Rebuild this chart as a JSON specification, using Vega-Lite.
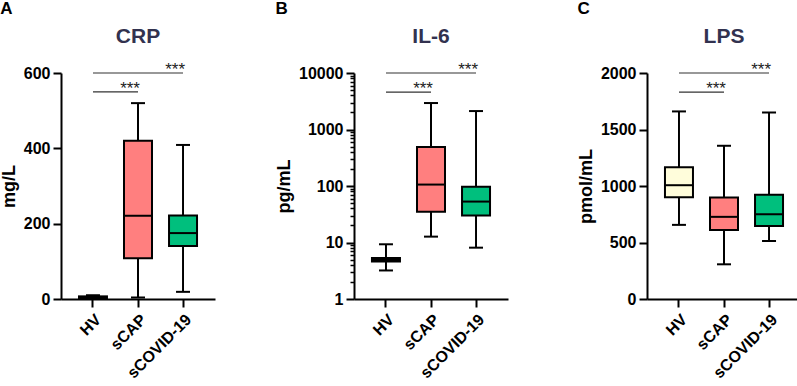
{
  "$schema": "https://vega.github.io/schema/vega-lite/v6.json",
  "padding": {"left": 0, "top": 0, "right": 0, "bottom": 0},
  "datasets": {
    "crp": [
      {"group": "HV", "min": 1, "q1": 2, "median": 4, "q3": 7, "max": 10},
      {"group": "sCAP", "min": 4, "q1": 108, "median": 221, "q3": 420, "max": 520},
      {"group": "sCOVID-19", "min": 19, "q1": 141, "median": 175, "q3": 222, "max": 409}
    ],
    "il6": [
      {"group": "HV", "min": 3.2, "q1": 4.6, "median": 4.9, "q3": 5.3, "max": 9.3},
      {"group": "sCAP", "min": 12.7, "q1": 35, "median": 106, "q3": 490, "max": 2940},
      {"group": "sCOVID-19", "min": 8.1, "q1": 30, "median": 53, "q3": 97, "max": 2120}
    ],
    "lps": [
      {"group": "HV", "min": 656, "q1": 901, "median": 1007, "q3": 1167, "max": 1660},
      {"group": "sCAP", "min": 307, "q1": 611, "median": 727, "q3": 898, "max": 1356},
      {"group": "sCOVID-19", "min": 514, "q1": 647, "median": 750, "q3": 922, "max": 1651}
    ],
    "sig_crp": [
      {"from": "HV", "to": "sCAP", "y": 550, "label": "***"},
      {"from": "HV", "to": "sCOVID-19", "y": 600, "label": "***"}
    ],
    "sig_il6": [
      {"from": "HV", "to": "sCAP", "y": 4600, "label": "***"},
      {"from": "HV", "to": "sCOVID-19", "y": 10000, "label": "***"}
    ],
    "sig_lps": [
      {"from": "HV", "to": "sCAP", "y": 1830, "label": "***"},
      {"from": "HV", "to": "sCOVID-19", "y": 2000, "label": "***"}
    ]
  },
  "hconcat": [
    {
      "spacing": 60,
      "hconcat": [
        {
          "title": {"text": "A", "anchor": "start", "frame": "bounds", "fontSize": 17, "fontWeight": "bold", "color": "black", "offset": 8},
          "vconcat": [
            {
              "width": 154, "height": 226,
              "title": {"text": "CRP", "fontSize": 21, "fontWeight": "bold", "color": "#32324f", "offset": 14},
              "layer": [
                {"data": {"name": "crp"}, "mark": {"type": "rule", "strokeWidth": 2, "color": "black"},
                 "encoding": {
                   "x": {"field": "group", "type": "nominal", "sort": ["HV", "sCAP", "sCOVID-19"], "scale": {"domain": ["HV", "sCAP", "sCOVID-19"], "paddingInner": 0, "paddingOuter": 0.21}, "axis": {"title": null, "labelAngle": -45, "tickSize": 8, "labelPadding": 4}},
                   "y": {"field": "min", "type": "quantitative", "scale": {"domain": [0, 600], "nice": false}, "axis": {"title": "mg/L", "values": [0, 200, 400, 600], "tickSize": 8, "titlePadding": 5}},
                   "y2": {"field": "max"}}},
                {"data": {"name": "crp"}, "mark": {"type": "tick", "size": 14, "thickness": 2, "color": "black", "opacity": 1},
                 "encoding": {"x": {"field": "group", "type": "nominal"}, "y": {"field": "min", "type": "quantitative"}}},
                {"data": {"name": "crp"}, "mark": {"type": "tick", "size": 14, "thickness": 2, "color": "black", "opacity": 1},
                 "encoding": {"x": {"field": "group", "type": "nominal"}, "y": {"field": "max", "type": "quantitative"}}},
                {"data": {"name": "crp"}, "mark": {"type": "bar", "size": 28, "stroke": "black", "strokeWidth": 2, "opacity": 1},
                 "encoding": {"x": {"field": "group", "type": "nominal"}, "y": {"field": "q1", "type": "quantitative"}, "y2": {"field": "q3"},
                   "fill": {"field": "group", "type": "nominal", "scale": {"domain": ["HV", "sCAP", "sCOVID-19"], "range": ["#fffddb", "#ff7f7f", "#00bf7d"]}, "legend": null}}},
                {"data": {"name": "crp"}, "mark": {"type": "tick", "size": 28, "thickness": 2, "color": "black", "opacity": 1},
                 "encoding": {"x": {"field": "group", "type": "nominal"}, "y": {"field": "median", "type": "quantitative"}}},
                {"data": {"name": "sig_crp"}, "mark": {"type": "rule", "strokeWidth": 1.2, "color": "#333333"},
                 "encoding": {"x": {"field": "from", "type": "nominal"}, "x2": {"field": "to"}, "y": {"field": "y", "type": "quantitative"}}},
                {"data": {"name": "sig_crp"}, "mark": {"type": "text", "align": "right", "baseline": "alphabetic", "fontSize": 17, "dx": 2, "dy": 2, "color": "#222222"},
                 "encoding": {"x": {"field": "to", "type": "nominal"}, "y": {"field": "y", "type": "quantitative"}, "text": {"field": "label"}}}
              ]
            }
          ]
        },
        {
          "title": {"text": "B", "anchor": "start", "frame": "bounds", "fontSize": 17, "fontWeight": "bold", "color": "black", "offset": 8},
          "vconcat": [
            {
              "width": 154, "height": 226,
              "title": {"text": "IL-6", "fontSize": 21, "fontWeight": "bold", "color": "#32324f", "offset": 14},
              "layer": [
                {"data": {"name": "il6"}, "mark": {"type": "rule", "strokeWidth": 2, "color": "black"},
                 "encoding": {
                   "x": {"field": "group", "type": "nominal", "sort": ["HV", "sCAP", "sCOVID-19"], "scale": {"domain": ["HV", "sCAP", "sCOVID-19"], "paddingInner": 0, "paddingOuter": 0.21}, "axis": {"title": null, "labelAngle": -45, "tickSize": 8, "labelPadding": 4}},
                   "y": {"field": "min", "type": "quantitative", "scale": {"type": "log", "domain": [1, 10000], "nice": false},
                     "axis": {"title": "pg/mL", "titlePadding": 5, "tickCount": 60, "format": "d", "labelPadding": 3,
                       "values": [1,2,3,4,5,6,7,8,9,10,20,30,40,50,60,70,80,90,100,200,300,400,500,600,700,800,900,1000,2000,3000,4000,5000,6000,7000,8000,9000,10000],
                       "labelExpr": "indexof([1,10,100,1000,10000], datum.value) >= 0 ? datum.label : ''",
                       "tickSize": {"condition": {"test": "indexof([1,10,100,1000,10000], datum.value) >= 0", "value": 8}, "value": 4},
                       "tickWidth": {"condition": {"test": "indexof([1,10,100,1000,10000], datum.value) >= 0", "value": 2}, "value": 1.5}}},
                   "y2": {"field": "max"}}},
                {"data": {"name": "il6"}, "mark": {"type": "tick", "size": 14, "thickness": 2, "color": "black", "opacity": 1},
                 "encoding": {"x": {"field": "group", "type": "nominal"}, "y": {"field": "min", "type": "quantitative"}}},
                {"data": {"name": "il6"}, "mark": {"type": "tick", "size": 14, "thickness": 2, "color": "black", "opacity": 1},
                 "encoding": {"x": {"field": "group", "type": "nominal"}, "y": {"field": "max", "type": "quantitative"}}},
                {"data": {"name": "il6"}, "mark": {"type": "bar", "size": 28, "stroke": "black", "strokeWidth": 2, "opacity": 1},
                 "encoding": {"x": {"field": "group", "type": "nominal"}, "y": {"field": "q1", "type": "quantitative"}, "y2": {"field": "q3"},
                   "fill": {"field": "group", "type": "nominal", "scale": {"domain": ["HV", "sCAP", "sCOVID-19"], "range": ["#fffddb", "#ff7f7f", "#00bf7d"]}, "legend": null}}},
                {"data": {"name": "il6"}, "mark": {"type": "tick", "size": 28, "thickness": 2, "color": "black", "opacity": 1},
                 "encoding": {"x": {"field": "group", "type": "nominal"}, "y": {"field": "median", "type": "quantitative"}}},
                {"data": {"name": "sig_il6"}, "mark": {"type": "rule", "strokeWidth": 1.2, "color": "#333333"},
                 "encoding": {"x": {"field": "from", "type": "nominal"}, "x2": {"field": "to"}, "y": {"field": "y", "type": "quantitative"}}},
                {"data": {"name": "sig_il6"}, "mark": {"type": "text", "align": "right", "baseline": "alphabetic", "fontSize": 17, "dx": 2, "dy": 2, "color": "#222222"},
                 "encoding": {"x": {"field": "to", "type": "nominal"}, "y": {"field": "y", "type": "quantitative"}, "text": {"field": "label"}}}
              ]
            }
          ]
        }
      ]
    },
    {
      "title": {"text": "C", "anchor": "start", "frame": "bounds", "fontSize": 17, "fontWeight": "bold", "color": "black", "offset": 8},
      "vconcat": [
        {
          "width": 154, "height": 226,
          "title": {"text": "LPS", "fontSize": 21, "fontWeight": "bold", "color": "#32324f", "offset": 14},
          "layer": [
            {"data": {"name": "lps"}, "mark": {"type": "rule", "strokeWidth": 2, "color": "black"},
             "encoding": {
               "x": {"field": "group", "type": "nominal", "sort": ["HV", "sCAP", "sCOVID-19"], "scale": {"domain": ["HV", "sCAP", "sCOVID-19"], "paddingInner": 0, "paddingOuter": 0.21}, "axis": {"title": null, "labelAngle": -45, "tickSize": 8, "labelPadding": 4}},
               "y": {"field": "min", "type": "quantitative", "scale": {"domain": [0, 2000], "nice": false}, "axis": {"title": "pmol/mL", "format": "d", "values": [0, 500, 1000, 1500, 2000], "tickSize": 8, "titlePadding": 5}},
               "y2": {"field": "max"}}},
            {"data": {"name": "lps"}, "mark": {"type": "tick", "size": 14, "thickness": 2, "color": "black", "opacity": 1},
             "encoding": {"x": {"field": "group", "type": "nominal"}, "y": {"field": "min", "type": "quantitative"}}},
            {"data": {"name": "lps"}, "mark": {"type": "tick", "size": 14, "thickness": 2, "color": "black", "opacity": 1},
             "encoding": {"x": {"field": "group", "type": "nominal"}, "y": {"field": "max", "type": "quantitative"}}},
            {"data": {"name": "lps"}, "mark": {"type": "bar", "size": 28, "stroke": "black", "strokeWidth": 2, "opacity": 1},
             "encoding": {"x": {"field": "group", "type": "nominal"}, "y": {"field": "q1", "type": "quantitative"}, "y2": {"field": "q3"},
               "fill": {"field": "group", "type": "nominal", "scale": {"domain": ["HV", "sCAP", "sCOVID-19"], "range": ["#fffddb", "#ff7f7f", "#00bf7d"]}, "legend": null}}},
            {"data": {"name": "lps"}, "mark": {"type": "tick", "size": 28, "thickness": 2, "color": "black", "opacity": 1},
             "encoding": {"x": {"field": "group", "type": "nominal"}, "y": {"field": "median", "type": "quantitative"}}},
            {"data": {"name": "sig_lps"}, "mark": {"type": "rule", "strokeWidth": 1.2, "color": "#333333"},
             "encoding": {"x": {"field": "from", "type": "nominal"}, "x2": {"field": "to"}, "y": {"field": "y", "type": "quantitative"}}},
            {"data": {"name": "sig_lps"}, "mark": {"type": "text", "align": "right", "baseline": "alphabetic", "fontSize": 17, "dx": 2, "dy": 2, "color": "#222222"},
             "encoding": {"x": {"field": "to", "type": "nominal"}, "y": {"field": "y", "type": "quantitative"}, "text": {"field": "label"}}}
          ]
        }
      ]
    }
  ],
  "spacing": 69,
  "config": {
    "font": "Liberation Sans",
    "view": {"stroke": null},
    "axis": {"domainColor": "black", "domainWidth": 2, "tickColor": "black", "tickWidth": 2, "labelColor": "black", "labelFontWeight": "bold", "labelFontSize": 16, "titleFontWeight": "bold", "titleFontSize": 18, "titleColor": "black", "grid": false, "labelPadding": 3}
  }
}
